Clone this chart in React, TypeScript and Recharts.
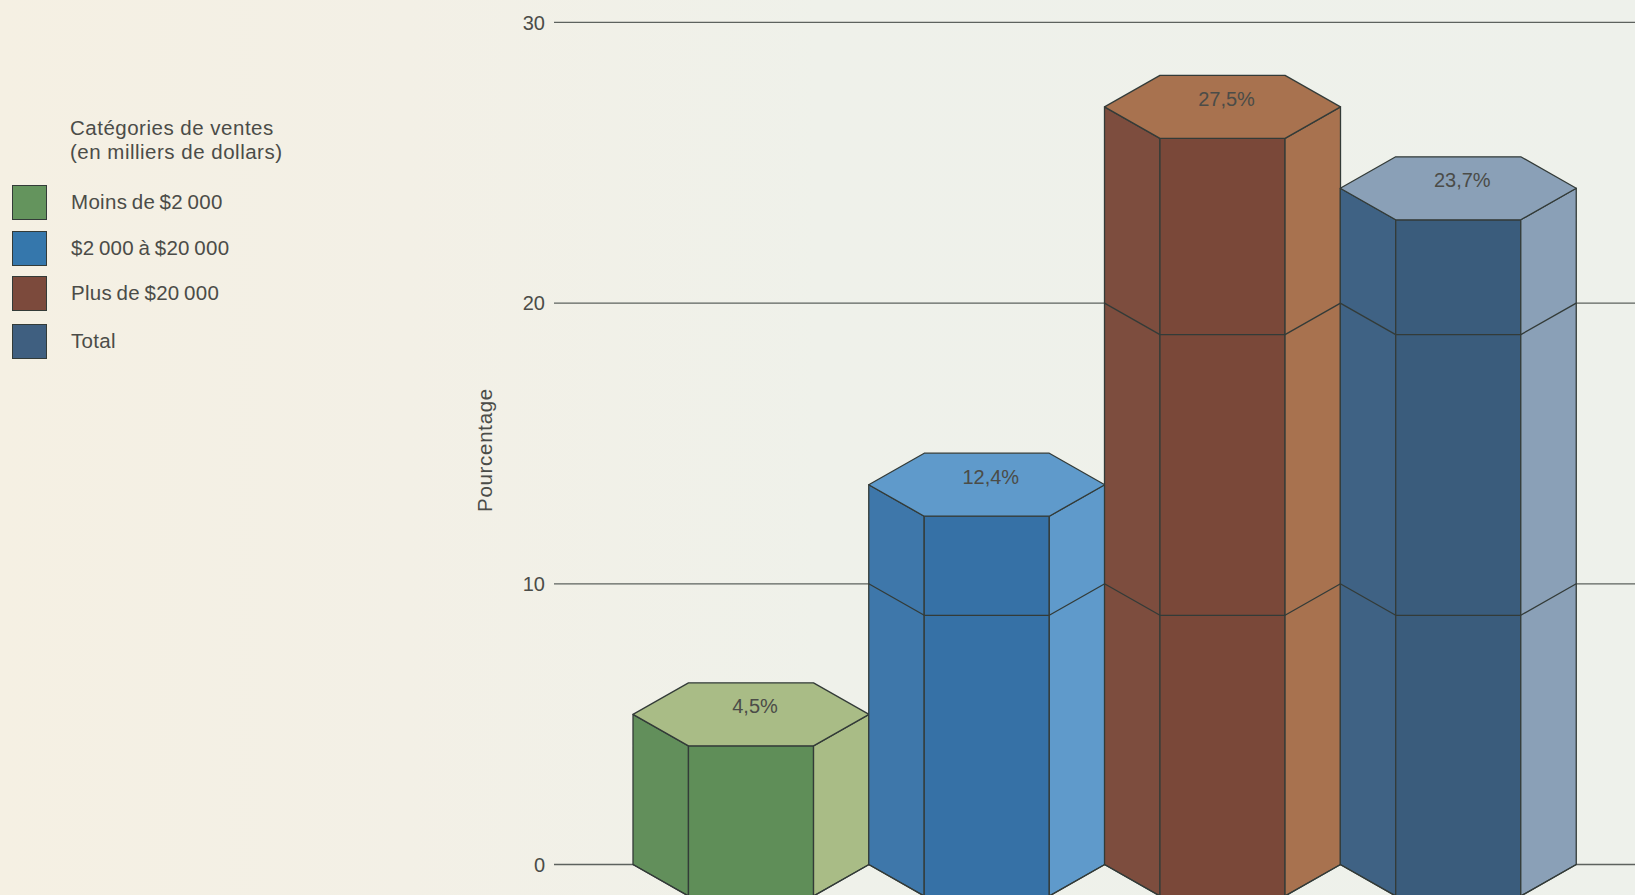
import React from "react";
import { BarChart, Bar, CartesianGrid, LabelList, Label, XAxis, YAxis } from "recharts";

// Sales categories, in the order of the legend
const categories = ["Moins de $2 000", "$2 000 à $20 000", "Plus de $20 000", "Total"];
// Printed percentages on top of each prism
const printedLabels = ["4,5%", "12,4%", "27,5%", "23,7%"];
// Heights as actually drawn in the picture, measured at the side corners of the top face
const drawnHeights = [5.35, 13.53, 26.99, 24.09];
const yTicks = [0, 10, 20, 30];
const legendTitle = ["Catégories de ventes", "(en milliers de dollars)"];

const chartData = categories.map((category, i) => ({
  category,
  height: drawnHeights[i],
  label: printedLabels[i],
}));

const W = 1635;
const H = 895;
const FONT = '"Liberation Sans", Arial, sans-serif';
const INK = "#4b4c48";
const EDGE = "#333b38";
const DEPTH = 31.5; // half the vertical extent of the hexagon
const INSET = 0.235; // share of the width taken by each side face

const palette = [
  { left: "#628f5b", front: "#5f8e58", light: "#a9bc86", swatch: "#64945d" },
  { left: "#3e77aa", front: "#3671a6", light: "#5f9acb", swatch: "#3577ac" },
  { left: "#7d4d3e", front: "#7a4839", light: "#a8724f", swatch: "#7c4a3c" },
  { left: "#3f6284", front: "#3a5c7c", light: "#8aa0b7", swatch: "#3f5f80" },
];

// Hexagonal prism standing on the zero line, with a ring at each axis tick
function Prism(props: any) {
  const { x, y, width, height, index, payload } = props;
  const c = palette[index];
  const xl = x + width * INSET;
  const xr = x + width * (1 - INSET);
  const xe = x + width;
  const base = y + height;
  const perUnit = height / payload.height;
  const pts = (list: number[][]) => list.map((p) => p.join(",")).join(" ");
  const rings = yTicks.filter((t) => t < payload.height);

  return (
    <g stroke={EDGE} strokeWidth={1.3} strokeLinejoin="round">
      <polygon points={pts([[x, y], [xl, y + DEPTH], [xl, base + DEPTH], [x, base]])} fill={c.left} />
      <polygon points={pts([[xl, y + DEPTH], [xr, y + DEPTH], [xr, base + DEPTH], [xl, base + DEPTH]])} fill={c.front} />
      <polygon points={pts([[xr, y + DEPTH], [xe, y], [xe, base], [xr, base + DEPTH]])} fill={c.light} />
      <polygon
        points={pts([[x, y], [xl, y - DEPTH], [xr, y - DEPTH], [xe, y], [xr, y + DEPTH], [xl, y + DEPTH]])}
        fill={c.light}
      />
      {rings.map((t) => {
        const ry = base - t * perUnit;
        return (
          <polyline
            key={t}
            points={pts([[x, ry], [xl, ry + DEPTH], [xr, ry + DEPTH], [xe, ry]])}
            fill="none"
          />
        );
      })}
    </g>
  );
}

function TopLabel(props: any) {
  const { x, y, width, value } = props;
  return (
    <text
      x={x + width / 2 + 4}
      y={y - 8}
      textAnchor="middle"
      dominantBaseline="central"
      fontFamily={FONT}
      fontSize={20}
      fill={INK}
    >
      {value}
    </text>
  );
}

function LegendBlock() {
  const rowCentres = [202, 248, 293, 341];
  const text: React.CSSProperties = {
    position: "absolute",
    left: 70,
    fontFamily: FONT,
    fontSize: 20.5,
    lineHeight: "24px",
    color: INK,
    whiteSpace: "nowrap",
  };
  return (
    <>
      {legendTitle.map((line, i) => (
        <div key={line} style={{ ...text, letterSpacing: 0.5, top: 116 + i * 24 }}>
          {line}
        </div>
      ))}
      {categories.map((name, i) => (
        <React.Fragment key={name}>
          <div
            style={{
              position: "absolute",
              left: 12,
              top: rowCentres[i] - 17,
              width: 33,
              height: 33,
              background: palette[i].swatch,
              border: `1px solid ${EDGE}`,
            }}
          />
          <div style={{ ...text, left: 71, letterSpacing: 0.3, wordSpacing: -1.5, top: rowCentres[i] - 12 }}>
            {name}
          </div>
        </React.Fragment>
      ))}
    </>
  );
}

export default function App() {
  return (
    <div
      style={{
        position: "absolute",
        left: 0,
        top: 0,
        width: W,
        height: H,
        overflow: "hidden",
        background: "linear-gradient(90deg, #f5f0e3 0%, #f3f0e6 25%, #eff1ea 50%, #eef1eb 100%)",
      }}
    >
      <BarChart
        width={W}
        height={H}
        data={chartData}
        barCategoryGap={0}
        margin={{ top: 22.4, right: 0, bottom: 30.5, left: 0 }}
      >
        <CartesianGrid horizontal vertical={false} stroke="#5d625e" strokeWidth={1.3} />
        <XAxis dataKey="category" hide padding={{ left: 79, right: 59 }} />
        <YAxis
          width={554}
          domain={[0, 30]}
          ticks={yTicks}
          axisLine={false}
          tickLine={false}
          tickSize={0}
          tickMargin={9}
          tick={{ fontFamily: FONT, fontSize: 20, fill: INK }}
        >
          <Label
            content={() => (
              <text
                transform="translate(484 450) rotate(-90)"
                textAnchor="middle"
                dominantBaseline="central"
                fontFamily={FONT}
                fontSize={20.5}
                letterSpacing={0.7}
                fill={INK}
              >
                Pourcentage
              </text>
            )}
          />
        </YAxis>
        <Bar dataKey="height" isAnimationActive={false} shape={<Prism />}>
          <LabelList dataKey="label" content={<TopLabel />} />
        </Bar>
      </BarChart>
      <LegendBlock />
    </div>
  );
}
